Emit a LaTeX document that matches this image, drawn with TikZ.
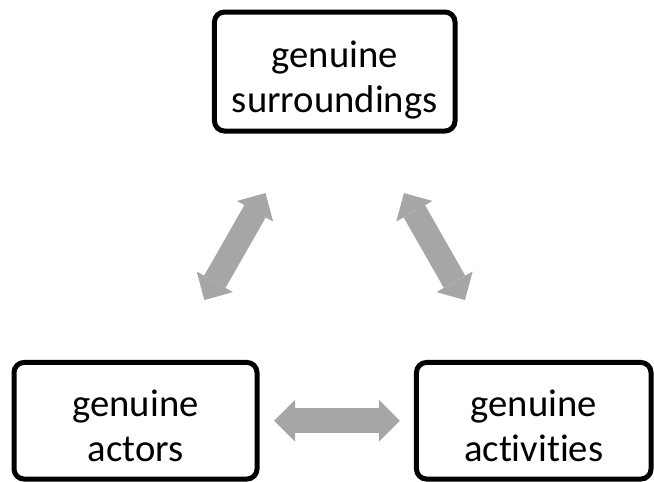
\documentclass[tikz,border=0pt]{standalone}
\usepackage{fontspec}
\setmainfont{Carlito}[Ligatures=NoCommon]
\usetikzlibrary{arrows.meta}
\definecolor{arrowgray}{RGB}{166,166,166}
\tikzset{
  box/.style={draw, line width=3.75pt, rounded corners=7.5pt, align=center,
    inner sep=0pt, text height=60.75pt, text depth=0pt,
    font=\fontsize{29pt}{33.75pt}\selectfont},
  dblarrow/.style={draw=arrowgray, line width=18.5pt,
    {Triangle[length=15.75pt,width=31.2pt,line width=0pt]}-{Triangle[length=15.75pt,width=31.2pt,line width=0pt]}}
}
\begin{document}
\begin{tikzpicture}[x=0.75pt,y=-0.75pt]
  \useasboundingbox (0,0) rectangle (654,482);

  \begin{scope}[every node/.style={box}]
    \node[minimum width=180.4pt, minimum height=89.25pt] (1) at (334.75,71.5) {genuine\\surroundings};
    \node[minimum width=182.25pt, minimum height=87.4pt] (2) at (135.5,420.75) {genuine\\actors};
    \node[minimum width=175.9pt, minimum height=87.4pt] (3) at (533.75,420.75) {genuine\\activities};
  \end{scope}

  \begin{scope}[every edge/.style={dblarrow}]
    \path (1) edge[shorten <=51.4pt, shorten >=51.75pt] (2);
    \path (1) edge[shorten <=51.4pt, shorten >=51.75pt] (3);
    \path (2) edge[shorten <=10.9pt, shorten >=10.5pt] (3);
  \end{scope}

\end{tikzpicture}
\end{document}
